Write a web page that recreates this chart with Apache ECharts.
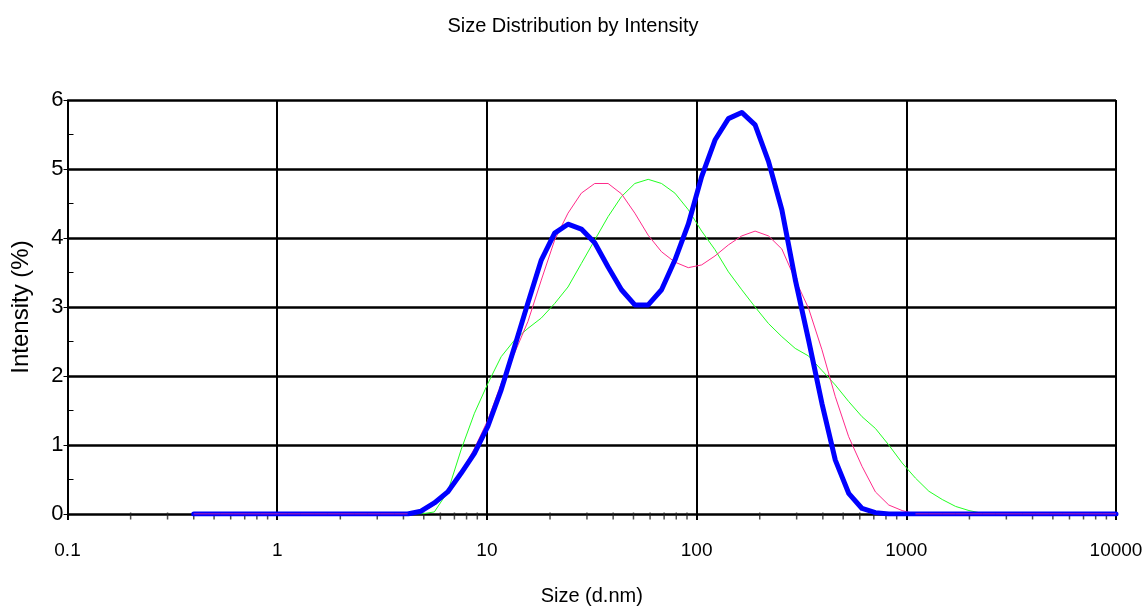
<!DOCTYPE html>
<html>
<head>
<meta charset="utf-8">
<script src="https://cdn.jsdelivr.net/npm/echarts@6/dist/echarts.min.js"></script>
<style>html,body{margin:0;padding:0;background:#fff}#c{width:1146px;height:607px}</style>
</head>
<body>
<div id="c"></div>
<script>
// Size bins (d.nm)
const sizes = [0.4,0.4632,0.5365,0.6213,0.7195,0.8332,0.9649,1.117,1.294,1.499,1.736,2.01,2.328,2.696,3.122,3.615,4.187,4.849,5.615,6.503,7.531,8.721,10.1,11.7,13.54,15.69,18.17,21.04,24.36,28.21,32.67,37.84,43.82,50.75,58.77,68.06,78.82,91.28,105.7,122.4,141.8,164.2,190.1,220.2,255.0,295.3,342.0,396.1,458.7,531.2,615.1,712.4,825.0,955.4,1106,1281,1484,1718,1990,2305,2669,3091,3580,4145,4801,5560,6439,7456,8635,10000];

// Record 1 (thick blue)
const blueValues = [0,0,0,0,0,0,0,0,0,0,0,0,0,0,0,0,0,0.04,0.16,0.32,0.59,0.88,1.27,1.80,2.42,3.06,3.68,4.07,4.20,4.13,3.93,3.58,3.25,3.03,3.03,3.25,3.68,4.20,4.89,5.42,5.73,5.82,5.64,5.11,4.41,3.40,2.52,1.60,0.78,0.30,0.08,0.02,0,0,0,0,0,0,0,0,0,0,0,0,0,0,0,0,0,0];

// Record 2 (pink)
const pinkValues = [0,0,0,0,0,0,0,0,0,0,0,0,0,0,0,0,0,0.02,0.13,0.35,0.61,0.95,1.36,1.89,2.33,2.79,3.39,3.97,4.36,4.65,4.79,4.79,4.64,4.36,4.04,3.80,3.65,3.57,3.61,3.74,3.90,4.03,4.10,4.03,3.84,3.40,2.98,2.38,1.70,1.12,0.69,0.32,0.13,0.05,0,0,0,0,0,0,0,0,0,0,0,0,0,0,0,0];

// Record 3 (green)
const greenValues = [0,0,0,0,0,0,0,0,0,0,0,0,0,0,0,0,0,0,0.03,0.32,0.93,1.46,1.89,2.28,2.52,2.69,2.84,3.05,3.29,3.63,3.97,4.31,4.60,4.79,4.85,4.79,4.65,4.41,4.10,3.83,3.51,3.25,3.00,2.76,2.57,2.40,2.29,2.08,1.87,1.63,1.41,1.24,1.00,0.74,0.52,0.33,0.21,0.11,0.05,0.01,0,0,0,0,0,0,0,0,0,0];

// Minor tick positions on the log x axis
const minorTickValues = [0.2,0.3,0.4,0.5,0.6,0.7,0.8,0.9,2,3,4,5,6,7,8,9,20,30,40,50,60,70,80,90,200,300,400,500,600,700,800,900,2000,3000,4000,5000,6000,7000,8000,9000];

const xTickLabels = ['0.1','1','10','100','1000','10000'];

const zip = (xs, ys) => xs.map((x, i) => [x, ys[i]]);

const chart = echarts.init(document.getElementById('c'), null, {renderer: 'canvas'});
const FONT = '"Liberation Sans", Arial, sans-serif';

chart.setOption({
  backgroundColor: '#ffffff',
  animation: false,
  title: {
    text: 'Size Distribution by Intensity',
    left: 'center',
    top: 11,
    textStyle: {fontFamily: FONT, fontSize: 20, fontWeight: 'normal', color: '#000'}
  },
  grid: {left: 67.5, right: 30, top: 100, bottom: 93, containLabel: false, outerBoundsMode: 'none'},
  xAxis: {
    type: 'log',
    logBase: 10,
    min: 0.1,
    max: 10000,
    name: 'Size (d.nm)',
    nameLocation: 'middle',
    nameGap: 72,
    nameTextStyle: {fontFamily: FONT, fontSize: 20, color: '#000'},
    axisLine: {show: true, lineStyle: {color: '#000', width: 1}},
    axisTick: {show: true, length: 6, lineStyle: {color: '#000', width: 2}},
    axisLabel: {
      fontFamily: FONT, fontSize: 19, color: '#000', margin: 27,
      formatter: function (v) {
        const i = Math.round(Math.log10(v) + 1);
        return xTickLabels[i] !== undefined ? xTickLabels[i] : '';
      }
    },
    splitLine: {show: true, lineStyle: {color: '#000', width: 2}},
    minorTick: {show: false},
    minorSplitLine: {show: false}
  },
  yAxis: [{
    type: 'value',
    min: 0,
    max: 6,
    interval: 1,
    name: 'Intensity (%)',
    nameLocation: 'middle',
    nameGap: 34,
    nameTextStyle: {fontFamily: FONT, fontSize: 24, color: '#000'},
    axisLine: {show: true, lineStyle: {color: '#000', width: 1}},
    axisTick: {show: true, length: 4, lineStyle: {color: '#000', width: 1}},
    axisLabel: {fontFamily: FONT, fontSize: 22, color: '#000', margin: 4},
    splitLine: {show: true, lineStyle: {color: '#000', width: 2.5}}
  }, {
    type: 'value',
    min: 0,
    max: 6,
    interval: 1,
    position: 'left',
    axisLine: {show: false},
    axisTick: {show: false, inside: true},
    axisLabel: {show: false},
    splitLine: {show: false},
    minorTick: {show: true, splitNumber: 2, length: 6, lineStyle: {color: '#000', width: 1}}
  }],
  series: [
    {
      name: 'ticks',
      type: 'scatter',
      data: minorTickValues.map(v => [v, 0]),
      symbol: 'rect',
      symbolSize: [1.5, 7],
      symbolOffset: [0, 2],
      itemStyle: {color: '#222'},
      silent: true,
      z: 1
    },
    {
      name: 'Record 3',
      type: 'line',
      data: zip(sizes, greenValues),
      showSymbol: false,
      symbol: 'none',
      lineStyle: {color: '#22ff22', width: 1},
      z: 3
    },
    {
      name: 'Record 2',
      type: 'line',
      data: zip(sizes, pinkValues),
      showSymbol: false,
      symbol: 'none',
      lineStyle: {color: '#ff2a8a', width: 1},
      z: 3
    },
    {
      name: 'Record 1',
      type: 'line',
      data: zip(sizes, blueValues),
      showSymbol: false,
      symbol: 'none',
      lineStyle: {color: '#0000ff', width: 5, cap: 'round', join: 'round'},
      z: 4
    },
    {
      name: 'Record 2 overlay',
      type: 'line',
      data: zip(sizes, pinkValues).map(p => p[1] === 0 ? p : [p[0], null]),
      showSymbol: false,
      symbol: 'none',
      connectNulls: false,
      lineStyle: {color: '#ff2a8a', width: 1},
      z: 5
    }
  ]
});
</script>
</body>
</html>
